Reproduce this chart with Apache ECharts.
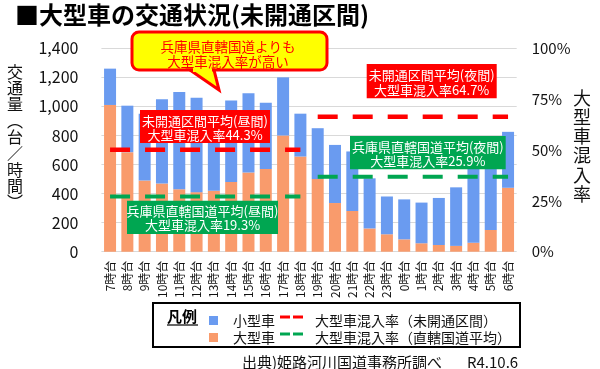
<!DOCTYPE html>
<html><head><meta charset="utf-8">
<script src="https://cdn.jsdelivr.net/npm/echarts@6/dist/echarts.min.js"></script>
<style>html,body{margin:0;padding:0;background:#fff}#c{width:600px;height:369px}</style>
</head><body><div id="c"></div>
<script>
const categories = ['7時台','8時台','9時台','10時台','11時台','12時台','13時台','14時台','15時台','16時台','17時台','18時台','19時台','20時台','21時台','22時台','23時台','0時台','1時台','2時台','3時台','4時台','5時台','6時台'];
const largeVehicles = [1010,685,490,470,430,410,420,480,545,570,800,655,500,335,280,160,120,85,58,46,40,62,150,440];
const smallVehicles = [250,320,460,580,670,650,520,560,545,455,400,295,350,400,410,345,260,275,280,324,403,528,570,385];
const rateDayUnopened = [0.501,0.501,0.501,0.501,0.501,0.501,0.501,0.501,0.501,0.501,0.501,0.501,null,null,null,null,null,null,null,null,null,null,null,null];
const rateNightUnopened = [null,null,null,null,null,null,null,null,null,null,null,null,0.663,0.663,0.663,0.663,0.663,0.663,0.663,0.663,0.663,0.663,0.663,0.663];
const rateDayNational = [0.271,0.271,0.271,0.271,0.271,0.271,0.271,0.271,0.271,0.271,0.271,0.271,null,null,null,null,null,null,null,null,null,null,null,null];
const rateNightNational = [null,null,null,null,null,null,null,null,null,null,null,null,0.368,0.368,0.368,0.368,0.368,0.368,0.368,0.368,0.368,0.368,0.368,0.368];
const leftTicks = {0:'0',200:'200',400:'400',600:'600',800:'800',1000:'1,000',1200:'1,200',1400:'1,400'};

const F = '"Noto Sans CJK JP","Noto Sans",sans-serif';
const BLUE = '#6A9BF0', ORANGE = '#F99B6C', RED = '#FF0000', GREEN = '#00A651';
const chart = echarts.init(document.getElementById('c'));

function lineSeries(name, data, color, w) {
  return {type:'line', name, data, yAxisIndex:1, symbol:'none', silent:true, z:5,
    lineStyle:{color, width:w, type:[20,15], cap:'butt'}};
}
function boxText(x,y,w,h,fill,text,cx,cy,lh){
  return [
    {type:'rect', z:100, shape:{x,y,width:w,height:h}, style:{fill}},
    {type:'text', z:101, x:cx, y:cy, style:{text, fill:'#fff', font:'13px '+F, align:'center', verticalAlign:'middle', lineHeight:lh}}
  ];
}

chart.setOption({
  animation:false,
  grid:{left:101.4, right:83.3, top:48.3, bottom:117.3, containLabel:false},
  xAxis:{type:'category', data:categories, axisLine:{show:false}, axisTick:{show:false},
    axisLabel:{rotate:90, fontSize:12, color:'#111', margin:9, fontFamily:F}},
  yAxis:[
    {type:'value', min:0, max:1400, interval:200, position:'left',
      splitLine:{lineStyle:{color:'#D9D9D9', width:1}}, axisLine:{show:false}, axisTick:{show:false},
      axisLabel:{formatter:v=>leftTicks[v], fontSize:16, color:'#111', margin:23, fontFamily:F}},
    {type:'value', min:0, max:1, interval:0.25, position:'right',
      splitLine:{show:false}, axisLine:{show:false}, axisTick:{show:false},
      axisLabel:{formatter:v=>Math.round(v*100)+'%', fontSize:15, color:'#111', margin:15, fontFamily:F}}
  ],
  series:[
    {type:'bar', name:'大型車', stack:'t', data:largeVehicles, barWidth:12, itemStyle:{color:ORANGE}},
    {type:'bar', name:'小型車', stack:'t', data:smallVehicles, barWidth:12, itemStyle:{color:BLUE}},
    lineSeries('未開通区間(昼間)', rateDayUnopened, RED, 4.5),
    lineSeries('未開通区間(夜間)', rateNightUnopened, RED, 4.5),
    lineSeries('直轄国道(昼間)', rateDayNational, GREEN, 4),
    lineSeries('直轄国道(夜間)', rateNightNational, GREEN, 4)
  ],
  graphic:[].concat(
    [{type:'text', z:100, x:15, y:15, style:{text:'■大型車の交通状況(未開通区間)', fill:'#000', font:'bold 24px '+F, verticalAlign:'middle'}},
     {type:'text', z:100, x:15, y:137, style:{text:'交\n通\n量\n︵\n台\n／\n時\n間\n︶', fill:'#111', font:'16px '+F, align:'center', verticalAlign:'middle', lineHeight:16.3}},
     {type:'text', z:100, x:582, y:146, style:{text:'大\n型\n車\n混\n入\n率', fill:'#111', font:'18px '+F, align:'center', verticalAlign:'middle', lineHeight:19.2}},
     {type:'rect', z:100, shape:{x:132,y:32,width:195,height:38,r:7}, style:{fill:'#FFFF00', stroke:RED, lineWidth:3}},
     {type:'polygon', z:100, shape:{points:[[190,70],[219,90],[214,70]]}, style:{fill:'#FFFF00', stroke:RED, lineWidth:3, lineJoin:'miter'}},
     {type:'rect', z:100, shape:{x:193,y:66,width:19,height:6}, style:{fill:'#FFFF00'}},
     {type:'text', z:101, x:228, y:54.5, style:{text:'兵庫県直轄国道よりも\n大型車混入率が高い', fill:RED, font:'13.5px '+F, align:'center', verticalAlign:'middle', lineHeight:15}}
    ],
    boxText(140,110,130,33,RED,'未開通区間平均(昼間)\n大型車混入率44.3%',205,128,14),
    boxText(127,200.7,151,33.3,GREEN,'兵庫県直轄国道平均(昼間)\n大型車混入率19.3%',202.5,218.3,13.5),
    boxText(366.7,64,130,34.3,RED,'未開通区間平均(夜間)\n大型車混入率64.7%',431.7,82.5,15),
    boxText(350,136,155.7,33.3,GREEN,'兵庫県直轄国道平均(夜間)\n大型車混入率25.9%',427.8,153.8,14.3),
    [
     {type:'rect', z:100, shape:{x:153,y:303,width:367,height:44}, style:{fill:'#fff', stroke:'#000', lineWidth:2}},
     {type:'text', z:101, x:167, y:316, style:{text:'凡例', fill:'#000', font:'bold 15px '+F, verticalAlign:'middle'}},
     {type:'line', z:101, shape:{x1:167,y1:325,x2:198,y2:325}, style:{stroke:'#000', lineWidth:1.2}},
     {type:'rect', z:101, shape:{x:209,y:316,width:9,height:9}, style:{fill:BLUE}},
     {type:'rect', z:101, shape:{x:209,y:333,width:9,height:9}, style:{fill:ORANGE}},
     {type:'text', z:101, x:233, y:320.5, style:{text:'小型車', fill:'#111', font:'14px '+F, verticalAlign:'middle'}},
     {type:'text', z:101, x:233, y:337.5, style:{text:'大型車', fill:'#111', font:'14px '+F, verticalAlign:'middle'}},
     {type:'line', z:101, shape:{x1:280,y1:317,x2:290,y2:317}, style:{stroke:RED, lineWidth:3}},
     {type:'line', z:101, shape:{x1:293,y1:317,x2:303,y2:317}, style:{stroke:RED, lineWidth:3}},
     {type:'line', z:101, shape:{x1:280,y1:334,x2:290,y2:334}, style:{stroke:GREEN, lineWidth:3}},
     {type:'line', z:101, shape:{x1:293,y1:334,x2:303,y2:334}, style:{stroke:GREEN, lineWidth:3}},
     {type:'text', z:101, x:315, y:320.5, style:{text:'大型車混入率（未開通区間）', fill:'#111', font:'14px '+F, verticalAlign:'middle'}},
     {type:'text', z:101, x:315, y:337.5, style:{text:'大型車混入率（直轄国道平均）', fill:'#111', font:'14px '+F, verticalAlign:'middle'}},
     {type:'text', z:101, x:242, y:362, style:{text:'出典)姫路河川国道事務所調べ', fill:'#111', font:'15px '+F, verticalAlign:'middle'}},
     {type:'text', z:101, x:467, y:362, style:{text:'R4.10.6', fill:'#111', font:'15px '+F, verticalAlign:'middle'}}
    ]
  )
});
</script></body></html>
